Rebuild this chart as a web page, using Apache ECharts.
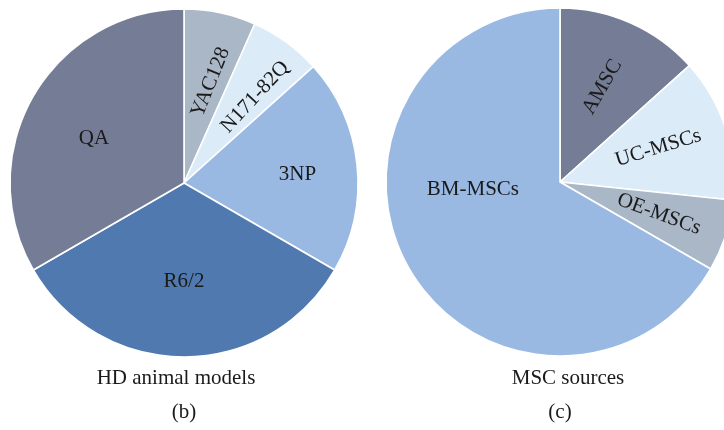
<!DOCTYPE html>
<html>
<head>
<meta charset="utf-8">
<style>
  html, body { margin: 0; padding: 0; background: #fff; }
  #chart { width: 724px; height: 430px; }
</style>
<script src="https://cdn.jsdelivr.net/npm/echarts@6/dist/echarts.min.js"></script>
</head>
<body>
<div id="chart"></div>
<script>
// HD animal models (panel b)
const modelNames = ['YAC128', 'N171-82Q', '3NP', 'R6/2', 'QA'];
const modelCounts = [2, 2, 6, 10, 10];

// MSC sources (panel c)
const sourceNames = ['AMSC', 'UC-MSCs', 'OE-MSCs', 'BM-MSCs'];
const sourceCounts = [2, 2, 1, 10];

const FONT = '"Liberation Serif", "DejaVu Serif", serif';
const C = {
  slate: '#757c96',
  steel: '#5079b0',
  sky: '#99b9e3',
  ice: '#dcebf8',
  grey: '#a9b7c7'
};
const modelColors = [C.grey, C.ice, C.sky, C.steel, C.slate];
const sourceColors = [C.slate, C.ice, C.grey, C.sky];

// per-slice label tweaks (rotation in degrees, offset in the label's rotated frame)
const modelLabelStyle = {
  'YAC128': { rotate: 68, offset: [1, 5] },
  'N171-82Q': { rotate: 47, offset: [8, 6] },
  '3NP': { offset: [10, 2] },
  'R6/2': { offset: [0, -6] },
  'QA': { offset: [0, 7] }
};
const sourceLabelStyle = {
  'AMSC': { rotate: 60 },
  'UC-MSCs': { rotate: 17, offset: [0, -2] },
  'OE-MSCs': { rotate: -20 },
  'BM-MSCs': { offset: [3, -45] }
};

function slices(names, values, colors) {
  return names.map((n, i) => ({ name: n, value: values[i], itemStyle: { color: colors[i] } }));
}
function labelSlices(names, values, styles) {
  return names.map((n, i) => ({
    name: n, value: values[i],
    label: Object.assign({}, styles[n] || {})
  }));
}

const baseLabel = {
  show: true, position: 'inside', color: '#1a1a1a',
  fontFamily: FONT, fontSize: 21, formatter: '{b}'
};

function piePair(center, names, values, colors, styles) {
  return [
    {
      type: 'pie', center: center, radius: [0, 174], startAngle: 90, clockwise: true,
      animation: false, silent: true, label: { show: false }, labelLine: { show: false },
      itemStyle: { borderColor: '#ffffff', borderWidth: 1.6 },
      data: slices(names, values, colors)
    },
    {
      // label carrier: same angles, labels pushed outward
      type: 'pie', center: center, radius: [28, 174], startAngle: 90, clockwise: true,
      animation: false, silent: true, label: baseLabel, labelLine: { show: false },
      itemStyle: { color: 'rgba(0,0,0,0)', borderWidth: 0 },
      data: labelSlices(names, values, styles)
    }
  ];
}

function caption(x, y, text) {
  return {
    type: 'text', x: x, y: y,
    style: { text: text, font: '21px ' + FONT, fill: '#1a1a1a', align: 'center', verticalAlign: 'middle' }
  };
}

const chart = echarts.init(document.getElementById('chart'), null, { renderer: 'canvas' });
chart.setOption({
  backgroundColor: '#ffffff',
  animation: false,
  series: [
    ...piePair([184, 183], modelNames, modelCounts, modelColors, modelLabelStyle),
    ...piePair([560, 182], sourceNames, sourceCounts, sourceColors, sourceLabelStyle)
  ],
  graphic: [
    caption(176, 378, 'HD animal models'),
    caption(184, 412, '(b)'),
    caption(568, 378, 'MSC sources'),
    caption(560, 412, '(c)')
  ]
});
</script>
</body>
</html>
